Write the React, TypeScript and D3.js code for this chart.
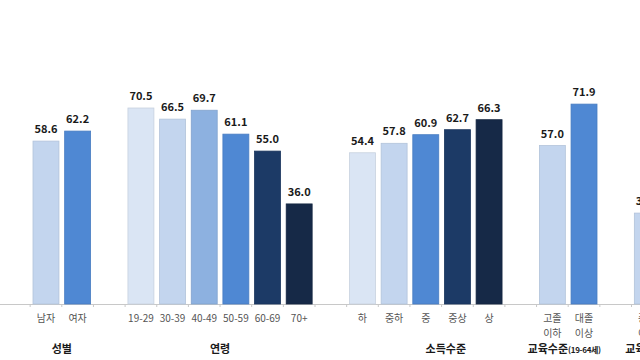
import React from "react";
import * as d3 from "d3";

const groupNames = ["성별", "연령", "소득수준", "교육수준(19-64세)", "교육수준(65세이상)"];
const sexCats = ["남자", "여자"];
const sexVals = [58.6, 62.2];
const ageCats = ["19-29", "30-39", "40-49", "50-59", "60-69", "70+"];
const ageVals = [70.5, 66.5, 69.7, 61.1, 55.0, 36.0];
const incomeCats = ["하", "중하", "중", "중상", "상"];
const incomeVals = [54.4, 57.8, 60.9, 62.7, 66.3];
const edu1Cats = ["고졸\n이하", "대졸\n이상"];
const edu1Vals = [57.0, 71.9];
const edu2Cats = ["중졸\n이하"];
const edu2Vals = [32.7];

const sexColors = ["#c3d5ee", "#4f88d3"];
const ageColors = ["#dae5f4", "#c3d5ee", "#8db1e0", "#4f88d3", "#1c3a66", "#162947"];
const incomeColors = ["#dae5f4", "#c3d5ee", "#4f88d3", "#1c3a66", "#162947"];
const edu1Colors = ["#c3d5ee", "#4f88d3"];
const edu2Colors = ["#c3d5ee"];

const groups = [
  { name: groupNames[0], cats: sexCats, vals: sexVals, colors: sexColors, dx: 0, slots: 2 },
  { name: groupNames[1], cats: ageCats, vals: ageVals, colors: ageColors, dx: 0, slots: 6 },
  { name: groupNames[2], cats: incomeCats, vals: incomeVals, colors: incomeColors, dx: 20, slots: 5 },
  { name: groupNames[3], cats: edu1Cats, vals: edu1Vals, colors: edu1Colors, dx: -4, slots: 2 },
  { name: groupNames[4], cats: edu2Cats, vals: edu2Vals, colors: edu2Colors, dx: 0, slots: 2 },
];

type Bar = { key: string; label: string; value: number; color: string; group: number };

export default function App() {
  const W = 640, H = 360;
  const slots: string[] = [];
  const bars: Bar[] = [];
  const groupSlots: string[][] = [];
  slots.push("_gap0");
  groups.forEach((g, gi) => {
    const gs: string[] = [];
    for (let i = 0; i < g.slots; i++) {
      const key = `${gi}-${i}`;
      slots.push(key);
      gs.push(key);
      if (i < g.cats.length) {
        bars.push({ key, label: g.cats[i], value: g.vals[i], color: g.colors[i], group: gi });
      }
    }
    groupSlots.push(gs);
    slots.push(`_gap${gi + 1}`);
  });

  const step = 31.65;
  const p = 0.18;
  const r0 = 33 - step - (p / 2) * step;
  const x = d3
    .scaleBand<string>()
    .domain(slots)
    .range([r0, r0 + step * slots.length])
    .paddingInner(p)
    .paddingOuter(p / 2);
  const base = 304;
  const y = d3.scaleLinear().domain([0, 80]).range([base, base - 80 * 2.78]);
  const bw = x.bandwidth();

  const tickXs = slots.map((s) => (x(s) as number) - (p * step) / 2);
  const font = "'Noto Sans CJK KR', 'Noto Sans', sans-serif";

  return (
    <svg width={W} height={H} style={{ position: "absolute", left: 0, top: 0, background: "#fff" }} fontFamily={font}>
      <rect width={W} height={H} fill="#fff" />
      <line x1={0} x2={W} y1={base + 0.5} y2={base + 0.5} stroke="#c8c8c8" strokeWidth={1} />
      {tickXs.map((tx, i) => (
        <line key={i} x1={tx} x2={tx} y1={base} y2={base + 3} stroke="#c8c8c8" strokeWidth={1} />
      ))}
      {bars.map((b) => {
        const bx = x(b.key) as number;
        const top = y(b.value);
        const lines = b.label.split("\n");
        return (
          <g key={b.key}>
            <rect
              x={bx}
              y={top}
              width={bw}
              height={base - top}
              fill={b.color}
              stroke={d3.color(b.color)!.darker(0.25).toString()}
              strokeWidth={0.8}
            />
            <text x={bx + bw / 2} y={top - 8} textAnchor="middle" fontSize={11} fontWeight={700} fill="#1a1a1a">
              {b.value.toFixed(1)}
            </text>
            {lines.map((ln, li) => (
              <text
                key={li}
                x={bx + bw / 2}
                y={322 + li * 15}
                textAnchor="middle"
                fontSize={10}
                fill="#555"
              >
                {ln}
              </text>
            ))}
          </g>
        );
      })}
      {groups.map((g, gi) => {
        const gs = groupSlots[gi];
        const x0 = x(gs[0]) as number;
        const x1 = (x(gs[gs.length - 1]) as number) + bw;
        const cx = (x0 + x1) / 2 + g.dx;
        const pi = g.name.indexOf("(");
        const main = pi >= 0 ? g.name.slice(0, pi) : g.name;
        const sub = pi >= 0 ? g.name.slice(pi) : "";
        return (
          <text key={gi} x={cx} y={353} textAnchor="middle" fontSize={11} fontWeight={700} fill="#1a1a1a">
            {main}
            {sub && (
              <tspan fontSize={8} letterSpacing={-0.3}>
                {sub}
              </tspan>
            )}
          </text>
        );
      })}
    </svg>
  );
}
